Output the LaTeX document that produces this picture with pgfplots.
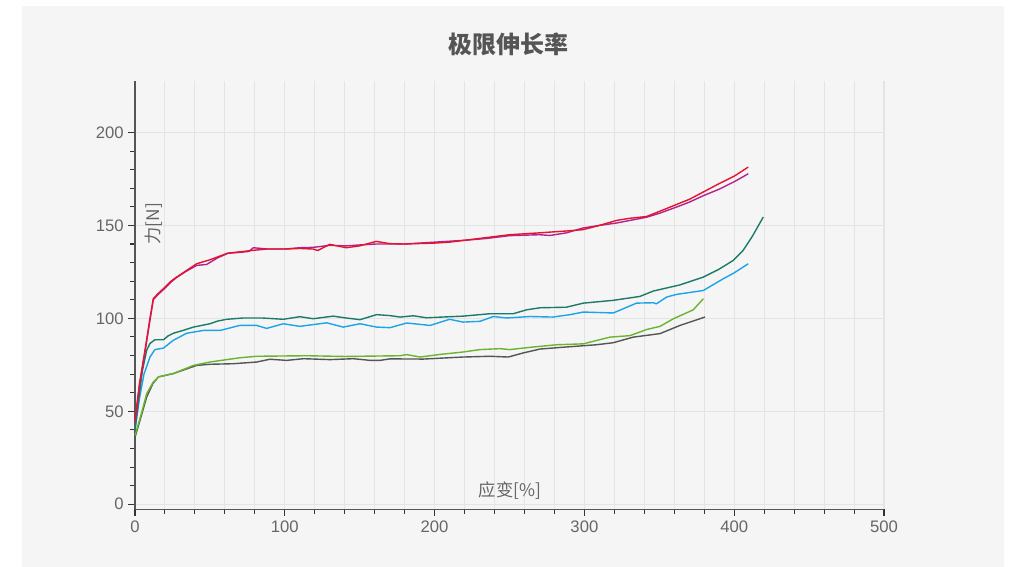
\documentclass[border=0pt]{standalone}
\usepackage{fontspec}
\setmainfont{Liberation Sans}
\newfontfamily\cjk{Noto Sans CJK SC}
\usepackage{pgfplots}
\pgfplotsset{compat=1.18}

\definecolor{panel}{HTML}{F5F5F5}
\definecolor{gridc}{HTML}{E4E4E4}
\definecolor{axisc}{HTML}{555555}
\definecolor{textc}{HTML}{666666}
\definecolor{titlec}{HTML}{555555}
\definecolor{cred}{HTML}{E3142E}
\definecolor{cmag}{HTML}{B3228F}
\definecolor{cteal}{HTML}{1C7A68}
\definecolor{cblue}{HTML}{1BA4E8}
\definecolor{cgreen}{HTML}{6AB52E}
\definecolor{cgray}{HTML}{555555}

\pgfplotstableread{
x y
0 45
3 65
6.7 83
10 100
12.2 110.6
15 113
19 116
24 120
27.8 122.2
34.5 125.8
41.2 129.4
50 131.5
55 133
62 135.1
70 135.8
79 136.6
88 137.3
100 137.3
110 137.6
119 137.3
122 136.5
130 139.8
141 138
150 139
161 141.4
170 140.2
180 140
200 140.5
210 141
220 142
230 143
250 145
260 145.5
270 146
277 146.4
288 147
299 147.7
310 150
321.5 152.7
330 153.8
341.5 154.8
350 157.5
361.6 161.3
370 164
379.4 168
390 172.5
400 176.5
409.4 181.4
}\redtab

\pgfplotstableread{
x y
0 44
3 64
6.7 82
10 99
12.2 110
15 112.5
19 115.5
24 119.5
27.8 122
34.5 125.5
41.2 128.5
47.8 129
55 132.5
62 135
70 135.5
76 136
79 138
88 137.3
100 137.3
110 138
119 138.2
130 139.3
141 139
150 139.5
161 140
170 140
180 140
200 141
220 142
235 143
250 144.5
270 145
277 144.6
288 146
299 148.6
310 150
321.5 151.3
341.5 154.4
350 156.5
361.6 159.9
370 162.5
379.4 166
390 169.5
400 173.5
409.4 177.8
}\magtab

\pgfplotstableread{
x y
0 40
3 60
5 72
7.8 82.8
10 86.5
13.3 88.5
19 88.5
22 90.5
25.6 92
32 93.5
39 95.3
50 97.1
55 98.5
61.2 99.5
72.3 100.2
85 100.2
99 99.5
110 100.9
119 99.8
132.3 101.2
140 100.3
150.2 99.3
161.3 102
170 101.5
177 100.7
185.7 101.4
194.7 100.3
205 100.7
219 101.2
237 102.5
252.5 102.5
261.4 104.6
270.4 105.7
288 106
299.3 108.2
319.3 109.7
337 111.8
346 114.7
363.8 118
379.4 122.2
390 126.5
399.4 131.2
406 136.6
412 144
419.4 154.5
}\tealtab

\pgfplotstableread{
x y
0 40
3 57
6 70
10 79.2
13.3 83.2
19 84
25.6 88.2
34.5 92
45.6 93.5
56.7 93.5
70 96.2
81.2 96.2
87.9 94.6
99 97.1
110 95.7
128 97.6
139 95.3
150.2 97.1
161.3 95.3
170.2 95
181.4 97.5
197 96.2
210 99.5
219 98
230.3 98.4
239.2 101
248 100.2
263.7 101
279 100.7
290.4 102
299.3 103.4
319.3 102.9
334.8 108.2
346 108.4
348 107.8
355 111.5
361.6 112.9
379.4 115
392.7 121.3
400 124.5
409.4 129.4
}\bluetab

\pgfplotstableread{
x y
0 37
4 48
7.8 59.5
12 65.5
15.6 68.5
25.6 70.3
39 74.7
50 76.5
61.2 77.8
70 78.8
81.2 79.6
114.6 79.9
140 79.5
177 79.9
181.4 80.5
190.3 79.2
203.6 80.6
219 81.9
230.3 83.2
243.7 83.7
250 83.2
266 84.6
281.4 85.8
299.3 86.3
317 89.9
330.4 90.7
341.5 94
350.5 95.7
359.4 99.8
372.7 104.6
379.4 110.6
}\greentab

\pgfplotstableread{
x y
0 36
4 47
7.8 57.7
12 65
15.6 68.5
25.6 70.3
41.2 74.7
50 75.3
65.6 75.6
81.2 76.5
90 78
101.3 77.4
112.6 78.3
130.2 77.8
145.7 78.3
157 77.4
163.6 77.4
170.2 78.2
192.5 78.1
219 79.2
237 79.6
249.2 79.2
259.2 81.4
270.4 83.5
288 84.6
308 85.8
319.3 86.9
332.6 89.9
350.5 91.8
363.8 96.2
370.5 98
380.5 100.7
}\graytab

\begin{document}
\begin{tikzpicture}
\path[use as bounding box, fill=white] (0,0) rectangle (762.75pt,425.25pt);
\fill[panel] (16.5pt,0pt) rectangle (753pt,420.75pt);
\begin{axis}[
  at={(101.25pt,43.3pt)}, anchor=south west,
  scale only axis, width=561.75pt, height=321.2pt,
  xmin=0, xmax=500, ymin=-2.7, ymax=227.7,
  axis x line=bottom, axis y line=left,
  axis line style={-, draw=axisc, line width=1pt},
  xtick={0,100,...,500}, ytick={0,50,...,200},
  minor x tick num=4, minor y tick num=4,
  tick align=outside,
  major tick length=5pt, minor tick length=3.5pt,
  tick style={draw=black!80, line width=0.8pt},
  xmajorgrids, xminorgrids, ymajorgrids,
  grid style={draw=gridc, line width=0.8pt},
  minor grid style={draw=gridc, line width=0.8pt},
  /pgf/number format/assume math mode=true,
  ticklabel style={font=\fontsize{12.5}{14}\selectfont, text=textc},
  title={\cjk\bfseries 极限伸长率},
  title style={at={(axis description cs:0.498,1.067)}, anchor=center,
    font=\fontsize{18}{20}\selectfont, text=titlec},
  xlabel={\cjk 应变[\%]},
  xlabel style={at={(axis description cs:0.5007,0.0444)}, anchor=center,
    font=\fontsize{13}{15}\selectfont, text=textc},
  ylabel={\cjk 力[N]},
  ylabel style={at={(axis description cs:0.0254,0.6666)}, anchor=center, rotate=0,
    font=\fontsize{13}{15}\selectfont, text=textc},
  clip=false,
  every axis plot/.append style={line width=1.05pt, mark=none, line join=round},
]
\addplot[cgray] table {\graytab};
\addplot[cgreen] table {\greentab};
\addplot[cblue] table {\bluetab};
\addplot[cteal] table {\tealtab};
\addplot[cmag] table {\magtab};
\addplot[cred] table {\redtab};
\end{axis}
\end{tikzpicture}
\end{document}
